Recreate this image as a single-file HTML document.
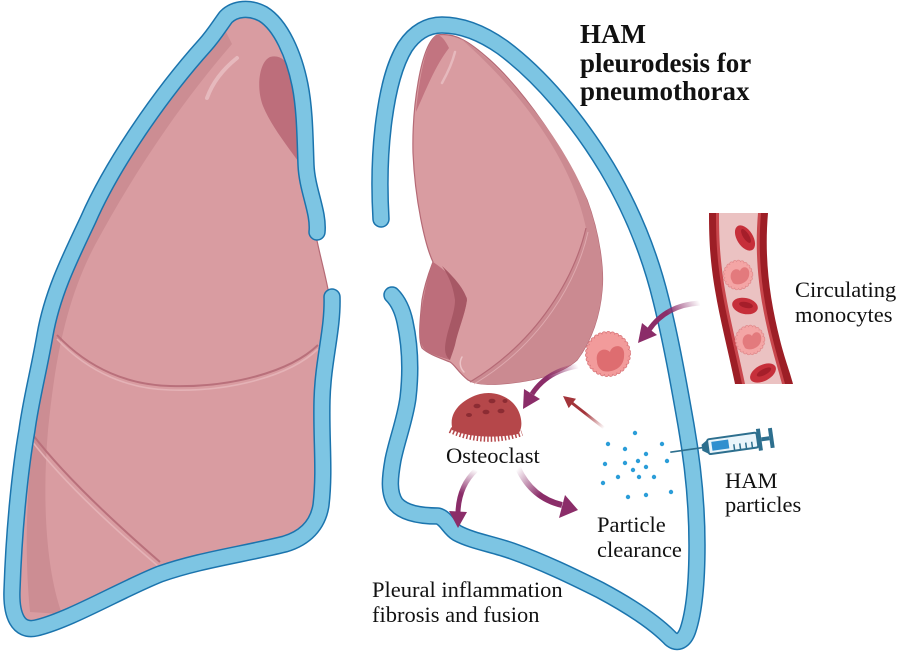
<!DOCTYPE html>
<html><head><meta charset="utf-8"><style>
html,body{margin:0;padding:0;background:#fff;}
svg{display:block;}
text{font-family:"Liberation Serif",serif;fill:#111;}
</style></head><body>
<svg width="900" height="657" viewBox="0 0 900 657" xmlns="http://www.w3.org/2000/svg">
<defs>
<linearGradient id="g1" gradientUnits="userSpaceOnUse" x1="700" y1="303" x2="650" y2="330"><stop offset="0" stop-color="#8b2d69" stop-opacity="0"/><stop offset="0.6" stop-color="#8b2d69"/></linearGradient>
<linearGradient id="g2" gradientUnits="userSpaceOnUse" x1="578" y1="366" x2="532" y2="394"><stop offset="0" stop-color="#8b2d69" stop-opacity="0"/><stop offset="0.6" stop-color="#8b2d69"/></linearGradient>
<linearGradient id="g3" gradientUnits="userSpaceOnUse" x1="604" y1="428" x2="572" y2="403"><stop offset="0" stop-color="#a3343a" stop-opacity="0"/><stop offset="0.6" stop-color="#a3343a"/></linearGradient>
<linearGradient id="g4" gradientUnits="userSpaceOnUse" x1="476" y1="470" x2="458" y2="512"><stop offset="0" stop-color="#8b2d69" stop-opacity="0"/><stop offset="0.6" stop-color="#8b2d69"/></linearGradient>
<linearGradient id="g5" gradientUnits="userSpaceOnUse" x1="518" y1="468" x2="562" y2="505"><stop offset="0" stop-color="#8b2d69" stop-opacity="0"/><stop offset="0.6" stop-color="#8b2d69"/></linearGradient>
</defs>

<!-- LEFT LUNG -->
<path d="M245,12 C275,16 295,50 302,90 C307,130 308,180 314,225 C318,250 326,275 330,300 L324,400 L322,505 C318,530 300,540 285,544 C240,555 200,560 160,574 C120,590 70,620 36,628 C18,632 11,615 12,590 C14,530 20,470 27,430 C31,400 39,370 45,335 C52,295 68,262 88,220 C112,165 160,95 205,45 C220,28 232,12 245,12 Z" fill="#d99ca1" stroke="#b56a76" stroke-width="1.2"/>
<path d="M225,30 C180,80 120,170 90,225 C60,280 45,340 35,420 C25,500 25,560 30,612 L62,614 C46,570 42,500 48,430 C55,360 66,300 95,245 C130,180 175,110 232,44 Z" fill="#cc8d93"/>
<path d="M270,57 C287,52 297,75 300,110 L303,168 C292,152 272,128 263,106 C256,88 259,62 270,57 Z" fill="#bd6e7b"/>
<path d="M237,58 C222,70 212,84 207,98" fill="none" stroke="#e6b9bd" stroke-width="4" stroke-linecap="round"/>
<path d="M57,339 C90,374 130,389 170,390 C230,392 290,376 318,349" fill="none" stroke="#e4b2b6" stroke-width="1.6"/>
<path d="M57,335 C90,370 130,385 170,386 C230,388 290,372 318,345" fill="none" stroke="#b9707b" stroke-width="2"/>
<path d="M31,440 C58,475 98,515 158,566" fill="none" stroke="#e4b2b6" stroke-width="1.6"/>
<path d="M33,435 C60,470 100,510 160,562" fill="none" stroke="#b9707b" stroke-width="2"/>
<path d="M45,618 C80,606 120,586 157,567" fill="none" stroke="#fff" stroke-width="1" opacity="0.7"/>

<!-- LEFT PLEURA -->
<path d="M317,232 C319,212 307,190 306,165 C305,140 305,110 300,85 C294,55 281,25 263,14 C250,7 235,8 226,17 C220,25 214,35 205,45 C160,95 112,165 88,220 C68,262 52,295 45,335 C39,370 31,400 27,430 C20,470 14,530 12,590 C11,615 18,632 36,628 C70,620 120,590 160,574 C200,560 240,555 285,544 C305,538 318,525 321,505 C325,470 321,440 322,400 C323,360 333,330 332,297" fill="none" stroke="#1b74ad" stroke-width="17.5" stroke-linecap="round" stroke-linejoin="round"/>
<path d="M317,232 C319,212 307,190 306,165 C305,140 305,110 300,85 C294,55 281,25 263,14 C250,7 235,8 226,17 C220,25 214,35 205,45 C160,95 112,165 88,220 C68,262 52,295 45,335 C39,370 31,400 27,430 C20,470 14,530 12,590 C11,615 18,632 36,628 C70,620 120,590 160,574 C200,560 240,555 285,544 C305,538 318,525 321,505 C325,470 321,440 322,400 C323,360 333,330 332,297" fill="none" stroke="#7dc5e3" stroke-width="14.5" stroke-linecap="round" stroke-linejoin="round"/>

<!-- RIGHT (COLLAPSED) LUNG -->
<path d="M437,35 C455,32 470,42 490,60 C525,92 565,150 587,200 C600,235 604,270 602,290 C600,315 592,340 577,360 C560,375 530,382 500,384 C485,385 475,384 468,380 C458,372 455,365 450,362 C440,358 428,354 422,348 C418,340 420,320 422,300 C425,282 430,270 433,262 C425,245 415,200 413,153 C412,110 420,45 437,35 Z" fill="#d99ca1" stroke="#b56a76" stroke-width="1.2"/>
<path d="M460,38 C500,62 565,140 587,200 C600,235 604,270 602,290 C600,315 592,340 577,360 C560,375 530,382 500,384 C485,385 477,384 470,382 C540,340 575,275 586,228 C572,160 520,90 460,38 Z" fill="#cb8a91"/>
<path d="M586,228 C575,275 540,340 470,382" fill="none" stroke="#b56a76" stroke-width="1.2"/>
<path d="M588,232 C578,278 543,343 474,384" fill="none" stroke="#e4b2b6" stroke-width="1" opacity="0.8"/>
<path d="M437,35 C428,38 420,70 416,112 C425,92 435,66 449,48 C445,40 441,35 437,35 Z" fill="#c27480"/>
<path d="M455,52 C452,64 447,74 442,83" fill="none" stroke="#e6b9bd" stroke-width="2.5" stroke-linecap="round"/>
<path d="M433,262 C428,275 422,300 420,325 C419,340 421,348 428,352 C436,356 444,358 450,360 C452,345 455,335 460,325 C465,312 467,302 467,298 C460,285 448,272 433,262 Z" fill="#bd6e7b"/>
<path d="M442,266 C455,278 465,290 467,300 C465,315 458,330 455,345 C453,352 451,357 450,360 C445,356 444,350 446,340 C449,325 455,312 455,300 C453,285 448,275 442,266 Z" fill="#a75865"/>
<path d="M462,357 C459,362 460,368 464,372" fill="none" stroke="#ebc3c6" stroke-width="1.5" stroke-linecap="round"/>

<!-- RIGHT PLEURA -->
<path d="M381,219 C379,185 380,150 384,120 C388,90 394,65 405,47 C415,32 428,25 442,25 C462,25 482,33 502,47 C540,75 578,120 607,168 C632,210 650,255 661,300 C671,340 679,385 686,425 C693,465 697,505 697,545 C697,585 694,612 688,630 C684,642 676,645 669,637 C652,620 628,605 600,590 C572,576 543,562 512,551 C492,544 472,541 457,533 C449,528 446,518 438,516 C420,516 404,513 396,504 C388,493 390,477 393,460 C397,440 405,420 408,398 C411,372 410,345 405,322 C402,308 397,300 392,295" fill="none" stroke="#1b74ad" stroke-width="17.5" stroke-linecap="round" stroke-linejoin="round"/>
<path d="M381,219 C379,185 380,150 384,120 C388,90 394,65 405,47 C415,32 428,25 442,25 C462,25 482,33 502,47 C540,75 578,120 607,168 C632,210 650,255 661,300 C671,340 679,385 686,425 C693,465 697,505 697,545 C697,585 694,612 688,630 C684,642 676,645 669,637 C652,620 628,605 600,590 C572,576 543,562 512,551 C492,544 472,541 457,533 C449,528 446,518 438,516 C420,516 404,513 396,504 C388,493 390,477 393,460 C397,440 405,420 408,398 C411,372 410,345 405,322 C402,308 397,300 392,295" fill="none" stroke="#7dc5e3" stroke-width="14.5" stroke-linecap="round" stroke-linejoin="round"/>

<!-- BLOOD VESSEL -->
<path d="M709,213 L768,213 C764,260 770,300 780,340 C785,360 790,372 793,384 L735,384 C728,350 720,320 715,290 C710,260 709,240 709,213 Z" fill="#9d1e26"/>
<path d="M716,213 L761,213 C757,260 763,300 773,340 C778,360 782,372 785,384 L742,384 C735,350 727,320 722,290 C717,260 716,240 716,213 Z" fill="#c9474d"/>
<path d="M719,213 L758,213 C754,260 760,300 770,340 C775,360 779,372 782,384 L745,384 C738,350 730,320 725,290 C720,260 719,240 719,213 Z" fill="#ebc2c2"/>
<ellipse cx="745" cy="238" rx="14" ry="8" transform="rotate(58 745 238)" fill="#c62f3a"/>
<ellipse cx="746" cy="236" rx="8" ry="3" transform="rotate(58 746 236)" fill="#a51e2a"/>
<circle cx="738" cy="275" r="13" fill="#f4a5a5" stroke="#e08a8c" stroke-width="4.5" stroke-dasharray="0.01 3.6" stroke-linecap="round"/>
<circle cx="738" cy="275" r="13" fill="#f4a5a5" stroke="#f4a5a5" stroke-width="3" stroke-dasharray="0.01 3.6" stroke-linecap="round"/>
<path d="M731,279 C729,270 737,267 740,271 C742,265 751,266 749,276 C747,284 737,286 733,283 Z" fill="#e37a7d"/>
<ellipse cx="745" cy="306" rx="13" ry="8" transform="rotate(12 745 306)" fill="#c62f3a"/>
<ellipse cx="746" cy="305" rx="7" ry="3" transform="rotate(12 746 305)" fill="#a51e2a"/>
<circle cx="750" cy="340" r="13" fill="#f4a5a5" stroke="#e08a8c" stroke-width="4.5" stroke-dasharray="0.01 3.6" stroke-linecap="round"/>
<circle cx="750" cy="340" r="13" fill="#f4a5a5" stroke="#f4a5a5" stroke-width="3" stroke-dasharray="0.01 3.6" stroke-linecap="round"/>
<path d="M743,344 C741,335 749,332 752,336 C754,330 763,331 761,341 C759,349 749,351 745,348 Z" fill="#e37a7d"/>
<ellipse cx="763" cy="373" rx="14" ry="8" transform="rotate(-28 763 373)" fill="#c62f3a"/>
<ellipse cx="764" cy="372" rx="8" ry="3" transform="rotate(-28 764 372)" fill="#a51e2a"/>

<!-- MONOCYTE -->
<circle cx="608" cy="354" r="20.5" fill="#f29b9b" stroke="#d9777b" stroke-width="5" stroke-dasharray="0.01 4.2" stroke-linecap="round"/>
<circle cx="608" cy="354" r="20.5" fill="#f29b9b" stroke="#f29b9b" stroke-width="3.4" stroke-dasharray="0.01 4.2" stroke-linecap="round"/>
<path d="M597,361 C595,350 605,347 610,352 C612,344 626,343 624,357 C623,369 611,373 603,371 C599,369 597,365 597,361 Z" fill="#de6d70"/>

<!-- OSTEOCLAST -->
<path d="M450,430 Q485,446 522,433" fill="none" stroke="#b5474a" stroke-width="6" stroke-dasharray="1.5 2"/>
<path d="M452,427 C449,410 465,398 480,394 C496,390 512,398 518,410 C523,420 522,430 518,434 C500,438 470,438 452,430 Z" fill="#b5474a"/>
<ellipse cx="477" cy="406" rx="3.5" ry="2.3" fill="#8c2c33"/>
<ellipse cx="492" cy="401" rx="3.5" ry="2.3" fill="#8c2c33"/>
<ellipse cx="486" cy="412" rx="3.5" ry="2.3" fill="#8c2c33"/>
<ellipse cx="501" cy="411" rx="3.5" ry="2.3" fill="#8c2c33"/>
<ellipse cx="469" cy="415" rx="3" ry="2" fill="#8c2c33"/>
<ellipse cx="505" cy="401" rx="2.5" ry="2" fill="#8c2c33"/>

<!-- ARROWS -->
<path d="M700,303 Q666,305 649,330" fill="none" stroke="url(#g1)" stroke-width="5"/>
<polygon points="638,343 642,323 657,335" fill="#8b2d69"/>
<path d="M578,366 Q547,371 532,394" fill="none" stroke="url(#g2)" stroke-width="5"/>
<polygon points="523,409 524,389 540,399" fill="#8b2d69"/>
<path d="M604,428 L572,403" fill="none" stroke="url(#g3)" stroke-width="3"/>
<polygon points="563,396 576,398.7 568.7,408.1" fill="#a3343a"/>
<path d="M476,470 Q459,486 458,512" fill="none" stroke="url(#g4)" stroke-width="5"/>
<polygon points="458,528 449,511 467,512" fill="#8b2d69"/>
<path d="M518,468 Q532,498 562,505" fill="none" stroke="url(#g5)" stroke-width="6"/>
<polygon points="578,510 565,495 559,518" fill="#8b2d69"/>

<!-- PARTICLES -->
<g fill="#2b9dd8">
<circle cx="635" cy="433" r="2.2"/><circle cx="608" cy="444" r="2.2"/><circle cx="662" cy="444" r="2.2"/>
<circle cx="625" cy="449" r="2.2"/><circle cx="646" cy="454" r="2.2"/><circle cx="605" cy="464" r="2.2"/>
<circle cx="625" cy="463" r="2.2"/><circle cx="638" cy="461" r="2.2"/><circle cx="667" cy="461" r="2.2"/>
<circle cx="633" cy="470" r="2.2"/><circle cx="646" cy="467" r="2.2"/><circle cx="618" cy="477" r="2.2"/>
<circle cx="639" cy="477" r="2.2"/><circle cx="654" cy="477" r="2.2"/><circle cx="603" cy="483" r="2.2"/>
<circle cx="671" cy="492" r="2.2"/><circle cx="628" cy="497" r="2.2"/><circle cx="646" cy="495" r="2.2"/>
</g>

<!-- SYRINGE -->
<g transform="rotate(-8 700 448)">
<line x1="670" y1="448" x2="703" y2="448" stroke="#2d6f8e" stroke-width="1.6"/>
<path d="M702,445 L708,441 L708,455 L702,451 Z" fill="#2d6f8e"/>
<rect x="708" y="440.5" width="50" height="15" rx="2" fill="#eaf5fb" stroke="#2d6f8e" stroke-width="2"/>
<rect x="712" y="443.5" width="17" height="9" fill="#2f8fcf"/>
<g stroke="#2d6f8e" stroke-width="1.5"><line x1="734" y1="449" x2="734" y2="455"/><line x1="740" y1="449" x2="740" y2="455"/><line x1="746" y1="449" x2="746" y2="455"/><line x1="752" y1="449" x2="752" y2="455"/></g>
<rect x="758" y="437" width="4" height="22" fill="#2d6f8e"/>
<rect x="762" y="446" width="8" height="4" fill="#2d6f8e"/>
<rect x="770" y="438" width="4" height="20" fill="#2d6f8e"/>
</g>

<!-- TEXT -->
<g font-size="27" font-weight="bold">
<text x="580" y="43">HAM</text>
<text x="580" y="72">pleurodesis for</text>
<text x="580" y="100">pneumothorax</text>
</g>
<g font-size="22.5">
<text x="795" y="297">Circulating</text>
<text x="795" y="322">monocytes</text>
<text x="725" y="488">HAM</text>
<text x="725" y="512">particles</text>
<text x="446" y="463">Osteoclast</text>
<text x="597" y="532">Particle</text>
<text x="597" y="557">clearance</text>
<text x="372" y="597">Pleural inflammation</text>
<text x="372" y="622">fibrosis and fusion</text>
</g>
</svg>
</body></html>
